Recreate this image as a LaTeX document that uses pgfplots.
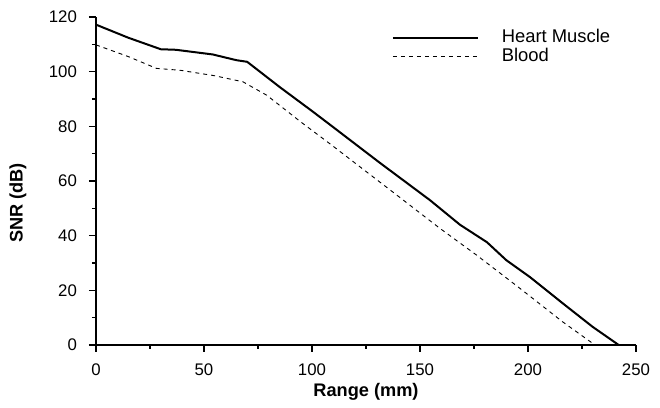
\documentclass[border=0pt]{standalone}
\usepackage{fontspec}
\setmainfont{Liberation Sans}
\usepackage{pgfplots}
\pgfplotsset{compat=1.18}
\begin{document}
\begin{tikzpicture}[x=1pt,y=1pt]
\begin{axis}[
  at={(0pt,0pt)}, anchor=origin,
  scale only axis, width=270pt, height=164pt,
  xmin=0, xmax=250, ymin=0, ymax=120,
  axis x line*=bottom, axis y line*=left,
  axis line style={line width=0.7pt},
  tick align=outside,
  xtick={0,50,100,150,200,250},
  ytick={0,20,40,60,80,100,120},
  minor x tick num=1, minor y tick num=1,
  major tick length=3.5pt, minor tick length=2pt,
  tick style={line width=0.6pt, black},
  /pgf/number format/assume math mode=true,
  ticklabel style={font=\fontsize{8.4}{10}\selectfont},
  yticklabel style={xshift=-2.5pt},
  xticklabel style={yshift=-2.5pt},
  xlabel={\textbf{Range (mm)}},
  ylabel={\textbf{SNR (dB)}},
  label style={font=\fontsize{9.1}{11}\selectfont},
  xlabel style={at={([yshift=-23.5pt]axis description cs:0.5,0)}, anchor=center},
  ylabel style={at={([xshift=-39pt]axis description cs:0,0.433)}, anchor=center},
  legend style={draw=none, fill=none, at={(axis description cs:0.536,0.909)}, anchor=west,
    font=\fontsize{9.2}{11}\selectfont, row sep=0pt,
    nodes={inner ysep=0.5pt}},
  legend cell align=left,
  legend image code/.code={\draw[#1] (0pt,0pt) -- (42.5pt,0pt);},
  clip=false,
]
\addplot[black, line width=1pt] coordinates {
(0,117.2) (15,112.4) (30,108.2) (37,108) (54,106.3) (65,104.2) (70,103.6)
(85,94.4) (100,85.6) (108,80.8) (131.5,66.6) (154.6,53) (168.5,44) (181,37.6)
(190,31) (201,24.8) (216,15.3) (230,6.6) (242,0)
};
\addlegendentry{\hspace{9.5pt}Heart Muscle}
\addplot[black, line width=0.45pt, dash pattern=on 2pt off 2pt] coordinates {
(0,109.8) (15,105.5) (28,101.2) (39,100.5) (55,98.5) (62,97.3) (68,96.3)
(79,91.4) (95,81.5) (108,73.8) (139,55) (159,42.8) (176,33) (195,21.5)
(216,8.5) (231,0)
};
\addlegendentry{\hspace{9.5pt}Blood}
\end{axis}
\path[use as bounding box] (-48pt,-30.5pt) rectangle (282pt,172.5pt);
\end{tikzpicture}
\end{document}
